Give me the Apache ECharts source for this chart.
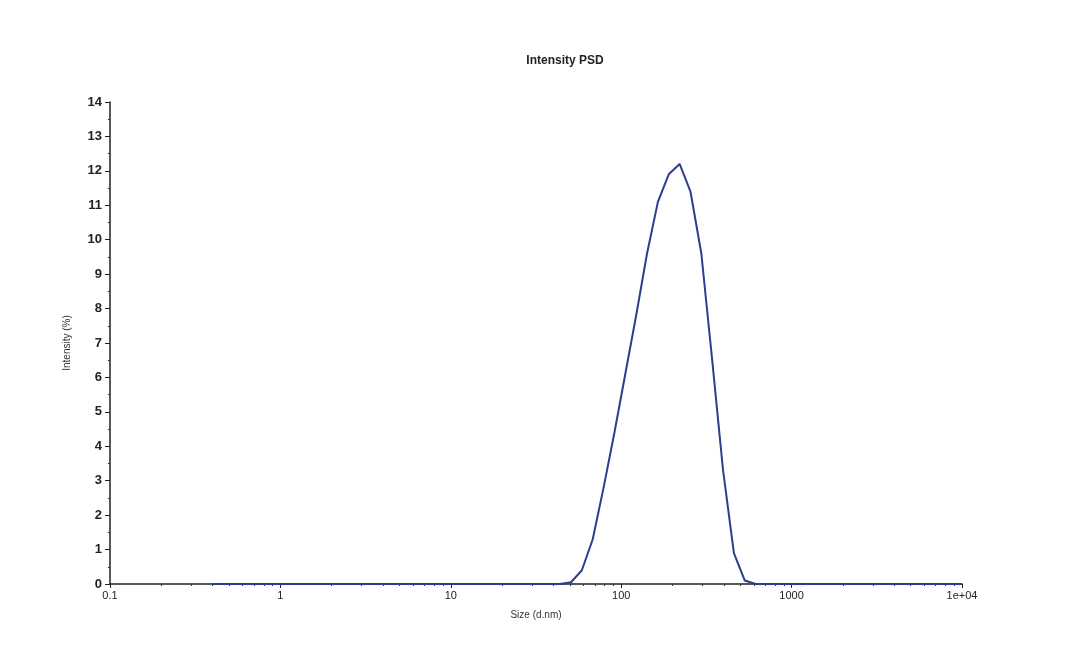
<!DOCTYPE html>
<html>
<head>
<meta charset="utf-8">
<script src="https://cdn.jsdelivr.net/npm/echarts@6/dist/echarts.min.js"></script>
<style>
html,body{margin:0;padding:0;background:#ffffff;}
#chart{width:1074px;height:670px;}
</style>
</head>
<body>
<div id="chart"></div>
<script>
// Size (d.nm) bins and intensity (%) values
var sizes = [0.4, 0.4632, 0.5365, 0.6213, 0.7195, 0.8332, 0.9649, 1.117, 1.294, 1.499,
  1.736, 2.01, 2.328, 2.696, 3.122, 3.615, 4.187, 4.849, 5.615, 6.503,
  7.531, 8.721, 10.1, 11.7, 13.54, 15.69, 18.17, 21.04, 24.36, 28.21,
  32.67, 37.84, 43.82, 50.75, 58.77, 68.06, 78.82, 91.28, 105.7, 122.4,
  141.8, 164.2, 190.1, 220.2, 255.0, 295.3, 342.0, 396.1, 458.7, 531.2,
  615.1, 712.4, 825.0, 955.4, 1106, 1281, 1484, 1718, 1990, 2305,
  2669, 3091, 3580, 4145, 4801, 5560, 6439, 7456, 8635, 10000];
var intensity = [0, 0, 0, 0, 0, 0, 0, 0, 0, 0,
  0, 0, 0, 0, 0, 0, 0, 0, 0, 0,
  0, 0, 0, 0, 0, 0, 0, 0, 0, 0,
  0, 0, 0, 0.05, 0.4, 1.3, 2.8, 4.4, 6.1, 7.8,
  9.6, 11.1, 11.9, 12.2, 11.4, 9.6, 6.5, 3.3, 0.9, 0.1,
  0, 0, 0, 0, 0, 0, 0, 0, 0, 0,
  0, 0, 0, 0, 0, 0, 0, 0, 0, 0];
var xTickLabels = {"0.1": "0.1", "1": "1", "10": "10", "100": "100", "1000": "1000", "10000": "1e+04"};
var titleText = "Intensity PSD";
var xName = "Size (d.nm)";
var yName = "Intensity (%)";

var data = sizes.map(function (s, i) { return [s, intensity[i]]; });
var chart = echarts.init(document.getElementById('chart'), null, {renderer: 'canvas'});
chart.setOption({
  backgroundColor: '#ffffff',
  animation: false,
  title: {
    text: titleText, left: 560, top: 50, textAlign: 'center',
    textStyle: {fontFamily: 'Liberation Sans', fontSize: 12, fontWeight: 'bold', color: '#222'}
  },
  grid: {left: 110, right: 112, top: 102, bottom: 86, containLabel: false},
  xAxis: {
    type: 'log', logBase: 10, min: 0.1, max: 10000,
    name: xName, nameLocation: 'middle', nameGap: 26,
    nameTextStyle: {fontFamily: 'Liberation Sans', fontSize: 10, color: '#333'},
    axisLine: {lineStyle: {color: '#222', width: 1.5}},
    axisTick: {show: true, inside: false, length: 4, lineStyle: {color: '#222'}},
    minorTick: {show: true, splitNumber: 9, length: 2, lineStyle: {color: '#333'}},
    splitLine: {show: false},
    axisLabel: {
      fontFamily: 'Liberation Sans', fontSize: 11, color: '#222', margin: 6,
      formatter: function (v) {
        var k = String(Math.round(v * 10) / 10);
        return xTickLabels[k] !== undefined ? xTickLabels[k] : '';
      }
    }
  },
  yAxis: {
    type: 'value', min: 0, max: 14, interval: 1,
    name: yName, nameLocation: 'middle', nameGap: 38, nameRotate: 90,
    nameTextStyle: {fontFamily: 'Liberation Sans', fontSize: 10, color: '#333'},
    axisLine: {show: true, lineStyle: {color: '#222', width: 1.5}},
    axisTick: {show: true, inside: false, length: 5, lineStyle: {color: '#222'}},
    minorTick: {show: true, splitNumber: 2, length: 2, lineStyle: {color: '#333'}},
    splitLine: {show: false},
    axisLabel: {fontFamily: 'Liberation Sans', fontSize: 13, fontWeight: 'bold', color: '#222', margin: 8}
  },
  series: [{
    type: 'line', data: data, showSymbol: false, smooth: false,
    lineStyle: {color: '#2b3f8e', width: 2},
    itemStyle: {color: '#2b3f8e'}
  }]
});
</script>
</body>
</html>
